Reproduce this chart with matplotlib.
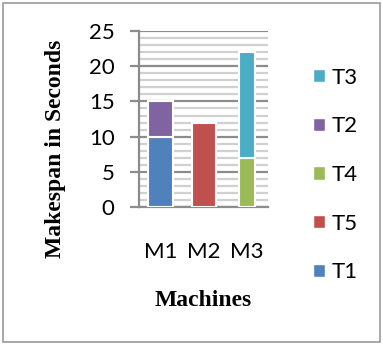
import numpy as np
import matplotlib.pyplot as plt
from matplotlib.patches import Rectangle, Patch
from matplotlib.ticker import MultipleLocator

machines = ['M1', 'M2', 'M3']
t1 = [10, 0, 0]
t2 = [5, 0, 0]
t5 = [0, 12, 0]
t4 = [0, 0, 7]
t3 = [0, 0, 15]

# stacking order bottom -> top
series = [('T1', t1, '#4F81BD'), ('T2', t2, '#8064A2'), ('T5', t5, '#C0504D'),
          ('T4', t4, '#9BBB59'), ('T3', t3, '#4BACC6')]
legend_order = ['T3', 'T2', 'T4', 'T5', 'T1']
widths = [0.56, 0.56, 0.37]

fig = plt.figure(figsize=(3.83, 3.45), dpi=100)
ax = fig.add_axes([0.363, 0.40, 0.337, 0.51])

x = np.arange(len(machines))
bottom = np.zeros(len(machines))
for name, vals, col in series:
    vals = np.array(vals, dtype=float)
    mask = vals > 0
    ax.bar(x[mask], vals[mask], width=np.array(widths)[mask], bottom=bottom[mask],
           color=col, edgecolor='white', linewidth=1.5, zorder=3)
    bottom += vals

ax.set_xlim(-0.5, 2.5)
ax.set_ylim(0, 25)
ax.yaxis.set_major_locator(MultipleLocator(5))
ax.yaxis.set_minor_locator(MultipleLocator(1))
ax.grid(which='major', axis='y', color='#8C8C8C', linewidth=1.6, zorder=1)
ax.grid(which='minor', axis='y', color='#D0D0D0', linewidth=1.6, zorder=0)
ax.set_axisbelow(True)

for s in ['top', 'right']:
    ax.spines[s].set_visible(False)
for s in ['left', 'bottom']:
    ax.spines[s].set_color('#8C8C8C')
    ax.spines[s].set_linewidth(1.6)

ax.set_xticks(x)
ax.set_xticklabels(machines, fontfamily='Lato', fontsize=16)
ax.tick_params(axis='x', length=0, pad=25)
ax.tick_params(axis='y', which='major', length=6.5, width=1.6, color='#8C8C8C',
               labelsize=16, pad=11)
ax.tick_params(axis='y', which='minor', length=0)
for lab in ax.get_yticklabels():
    lab.set_fontfamily('Lato')

fig.text(55 / 383, 0.568, 'Makespan in Seconds', rotation=90, ha='center', va='center',
         fontfamily='Liberation Serif', fontweight='bold', fontsize=17)
fig.text(203 / 383, 0.13, 'Machines', ha='center', va='center',
         fontfamily='Liberation Serif', fontweight='bold', fontsize=17)

colors = {name: col for name, _, col in series}
handles = [Patch(facecolor=colors[n], edgecolor='white') for n in legend_order]
fig.legend(handles, legend_order, loc='upper left', bbox_to_anchor=(0.765, 0.862),
           frameon=False, prop={'family': 'Lato', 'size': 16},
           handlelength=0.55, handleheight=0.55, handletextpad=0.3, labelspacing=1.29)

fig.add_artist(Rectangle((0.008, 0.008), 0.984, 0.984, transform=fig.transFigure,
                         fill=False, edgecolor='#9A9A9A', linewidth=1.2))

fig.savefig('out.png', dpi=100)
